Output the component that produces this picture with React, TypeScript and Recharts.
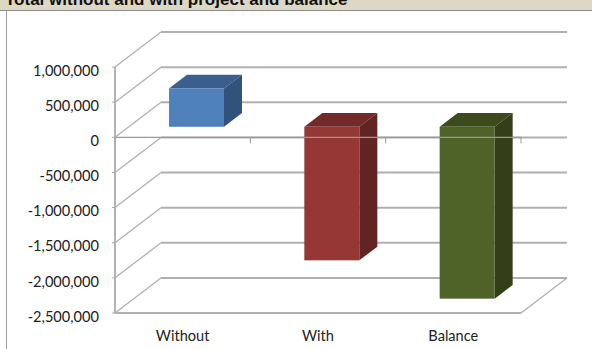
import { Bar, BarChart, CartesianGrid, ReferenceLine, XAxis, YAxis } from 'recharts'

const categories = ['Without', 'With', 'Balance']
const totals = [545000, -1900000, -2445000]
const yTicks = [1000000, 500000, 0, -500000, -1000000, -1500000, -2000000, -2500000]

const frontColors = ['#4f81bd', '#953735', '#4f6228']
const topColors = ['#3a5f8e', '#722b2a', '#3d4c1e']
const sideColors = ['#31527b', '#622423', '#323f18']

const rows = categories.map((name, i) => ({ name, total: totals[i] }))

// floor depth of the fake 3D box, and where the bars sit inside it
const DEPTH_X = 46
const DEPTH_Y = 35
const BAR_SHIFT_X = 14
const BAR_SHIFT_Y = 10.5
const BAR_DEPTH_X = 18
const BAR_DEPTH_Y = 13.7

const LINE = '#b0b0b0'
const LABEL_FONT = 'Lato, "Open Sans", sans-serif'

function WallLine({ x1, y1, x2 }: any) {
  return (
    <g key={`wall-${y1}`}>
      <line x1={x1} y1={y1} x2={x1 + DEPTH_X} y2={y1 - DEPTH_Y} stroke={LINE} strokeWidth={1.3} />
      <line x1={x1 + DEPTH_X} y1={y1 - DEPTH_Y} x2={x2 + DEPTH_X} y2={y1 - DEPTH_Y} stroke={LINE} strokeWidth={2} />
    </g>
  )
}

function Box3D({ x, y, width, height, index }: any) {
  const left = x + BAR_SHIFT_X
  const right = left + width
  const top = Math.min(y, y + height) - BAR_SHIFT_Y
  const bottom = Math.max(y, y + height) - BAR_SHIFT_Y
  const bx = BAR_DEPTH_X
  const by = BAR_DEPTH_Y
  return (
    <g>
      <polygon
        points={`${left},${top} ${right},${top} ${right + bx},${top - by} ${left + bx},${top - by}`}
        fill={topColors[index]}
      />
      <polygon
        points={`${right},${top} ${right + bx},${top - by} ${right + bx},${bottom - by} ${right},${bottom}`}
        fill={sideColors[index]}
      />
      <rect x={left} y={top} width={width} height={bottom - top} fill={frontColors[index]} />
    </g>
  )
}

// category axis line crossing at zero, with its tick marks
function ZeroAxis({ x1, y1, x2 }: any) {
  const step = (x2 - x1) / categories.length
  return (
    <g>
      <line x1={x1} y1={y1} x2={x2} y2={y1} stroke="#999" strokeWidth={1.2} />
      {[0, 1, 2, 3].map((i) => (
        <line key={i} x1={x1 + i * step} y1={y1} x2={x1 + i * step} y2={y1 + 6} stroke="#999" strokeWidth={1} />
      ))}
    </g>
  )
}

function FloorEdge({ x1, y1, x2 }: any) {
  return (
    <g>
      <line x1={x1} y1={y1} x2={x2} y2={y1} stroke={LINE} strokeWidth={2} />
      <line x1={x2} y1={y1} x2={x2 + DEPTH_X} y2={y1 - DEPTH_Y} stroke={LINE} strokeWidth={1.3} />
    </g>
  )
}

export default function App() {
  return (
    <div style={{ position: 'absolute', left: 0, top: 0, width: 592, height: 349, background: '#fff', overflow: 'hidden' }}>
      <div
        style={{
          position: 'absolute',
          left: 0,
          top: 0,
          width: 592,
          height: 10,
          background: '#ddd8c4',
          borderBottom: '1px solid #8c8c8c',
          overflow: 'hidden',
        }}
      >
        <div
          style={{
            position: 'absolute',
            left: 5,
            top: -10,
            font: 'bold 17px "Liberation Sans", Arial, sans-serif',
            color: '#111',
            whiteSpace: 'nowrap',
          }}
        >
          Total without and with project and balance
        </div>
      </div>
      <div style={{ position: 'absolute', left: 6, top: 11, width: 1, height: 338, background: '#a0a0a0' }} />
      <BarChart
        width={592}
        height={349}
        data={rows}
        barSize={55}
        margin={{ top: 67, right: 71, bottom: 0, left: 0 }}
      >
        <CartesianGrid vertical={false} horizontal={(props: any) => <WallLine {...props} />} />
        <XAxis
          dataKey="name"
          height={36}
          axisLine={false}
          tickLine={false}
          interval={0}
          tick={{ fill: '#222', fontSize: 14.6, fontFamily: LABEL_FONT, dy: 10 }}
        />
        <YAxis
          type="number"
          width={115}
          domain={[-2500000, 1000000]}
          ticks={yTicks}
          interval={0}
          tickSize={3}
          tickMargin={13}
          axisLine={{ stroke: '#aaa', strokeWidth: 1.8 }}
          tickLine={{ stroke: '#aaa' }}
          tickFormatter={(v: number) => v.toLocaleString('en-US')}
          tick={{ fill: '#222', fontSize: 14.6, fontFamily: LABEL_FONT, dy: 3.5 }}
        />
        <Bar dataKey="total" isAnimationActive={false} shape={(props: any) => <Box3D {...props} />} />
        <ReferenceLine y={-2500000} shape={(props: any) => <FloorEdge {...props} />} />
        <ReferenceLine y={0} shape={(props: any) => <ZeroAxis {...props} />} />
      </BarChart>
    </div>
  )
}
